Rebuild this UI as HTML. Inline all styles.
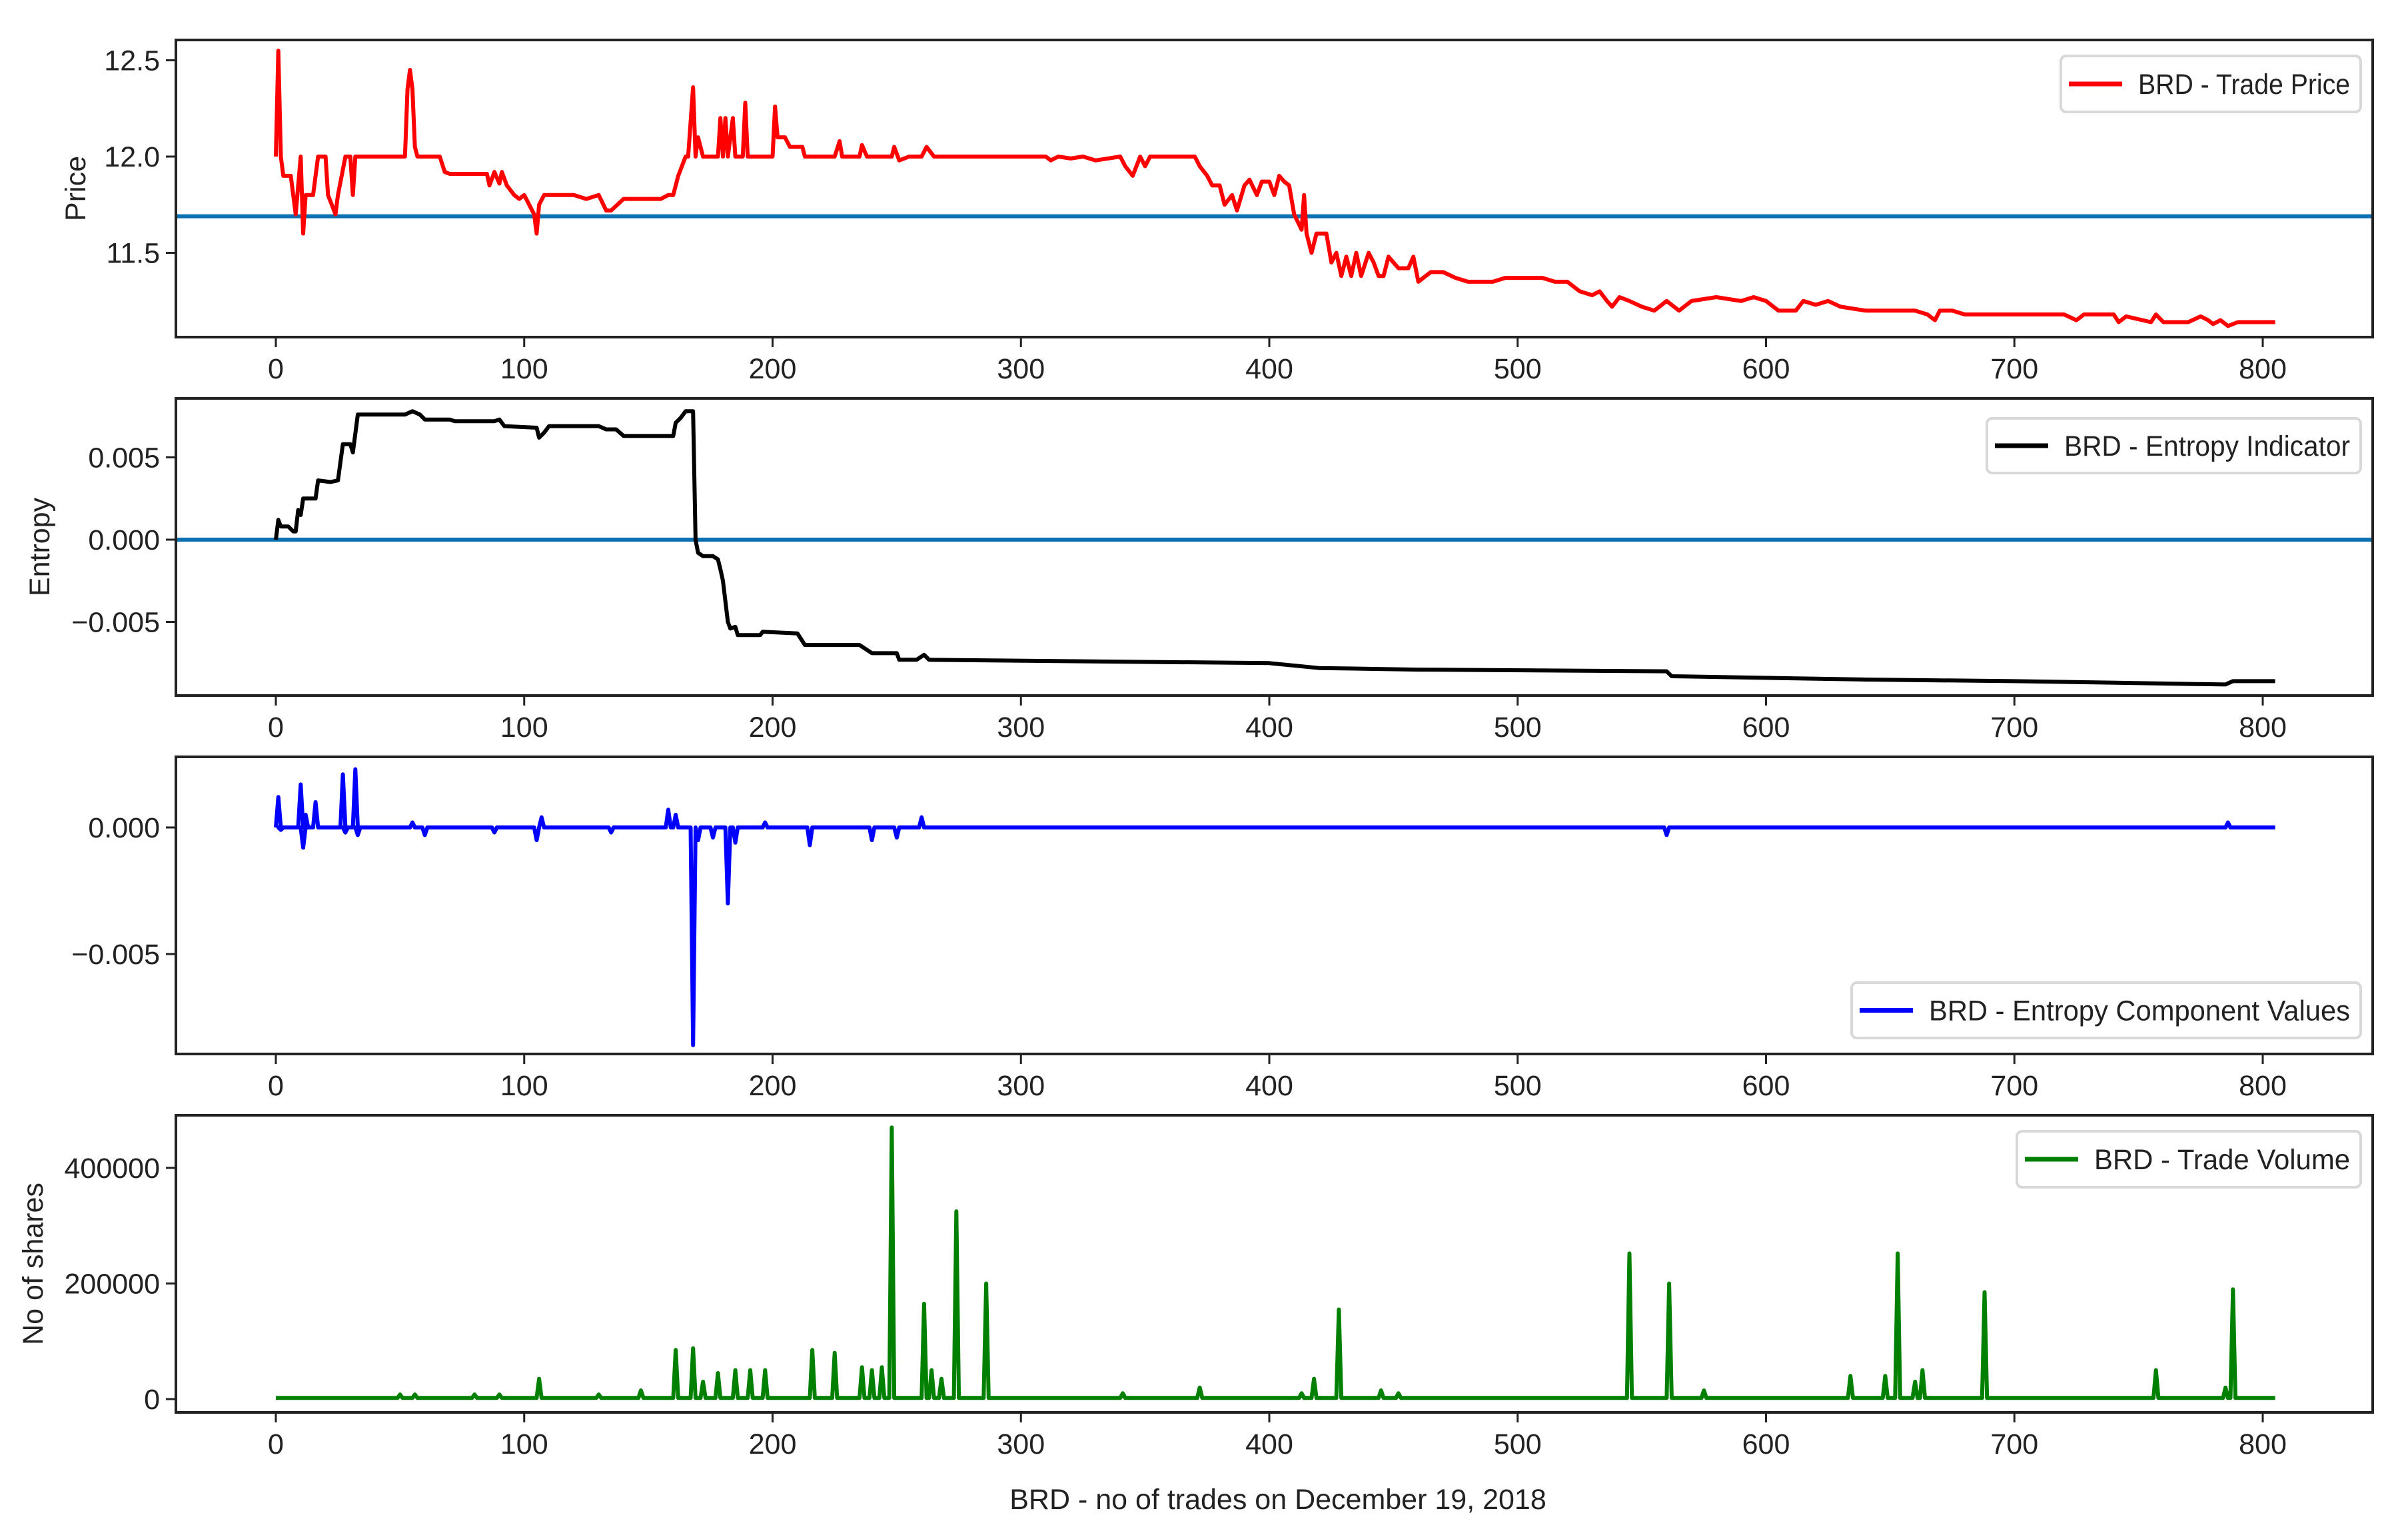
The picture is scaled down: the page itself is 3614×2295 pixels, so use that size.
<!DOCTYPE html>
<html><head><meta charset="utf-8"><style>
html,body{margin:0;padding:0;background:#fff;}
svg{display:block;}
text{font-family:"Liberation Sans","DejaVu Sans",sans-serif;fill:#222;}
</style></head>
<body>
<svg id="chart" xmlns="http://www.w3.org/2000/svg" width="3614" height="2295" viewBox="0 0 3614 2295">
<rect x="0" y="0" width="3614" height="2295" fill="#fff"/>
</svg>
<script>
// ---- data ----
const xTicks = [0,100,200,300,400,500,600,700,800];
const priceTicks = [11.5,12.0,12.5];
const priceTickLabels = ["11.5","12.0","12.5"];
const entropyTicks = [-0.005,0,0.005];
const entropyTickLabels = ["\u22120.005","0.000","0.005"];
const compTicks = [-0.005,0];
const compTickLabels = ["\u22120.005","0.000"];
const volTicks = [0,200000,400000];
const volTickLabels = ["0","200000","400000"];
const priceRef = 11.69;
const entropyRef = 0;

const priceX = [0,1,2,3,6,8,10,11,12,15,17,20,21,24,25,28,30,31,32,52,53,54,55,56,57,66,68,70,85,86,88,90,91,93,96,98,100,102,104,105,106,108,120,125,130,133,135,140,155,158,160,162,165,166,168,169,170,172,178,179,180,181,182,184,185,188,189,190,198,200,201,202,205,207,212,213,225,227,228,235,236,238,248,249,251,255,260,262,265,300,310,312,315,320,325,330,340,342,345,348,350,352,370,372,375,377,380,382,385,387,390,392,395,397,400,402,404,406,408,410,413,414,415,417,419,423,425,427,429,431,433,435,437,440,442,444,446,448,450,452,456,458,460,465,470,475,480,490,495,510,515,520,525,530,533,536,538,541,545,550,555,560,565,570,580,590,595,600,605,612,615,620,625,630,640,660,665,668,670,675,680,690,700,720,725,728,740,742,745,755,757,760,770,775,778,780,783,786,790,805];
const priceY = [12.0,12.55,12.0,11.9,11.9,11.7,12.0,11.6,11.8,11.8,12.0,12.0,11.8,11.7,11.8,12.0,12.0,11.8,12.0,12.0,12.35,12.45,12.35,12.05,12.0,12.0,11.92,11.91,11.91,11.85,11.92,11.86,11.92,11.85,11.8,11.78,11.8,11.75,11.7,11.6,11.75,11.8,11.8,11.78,11.8,11.72,11.72,11.78,11.78,11.8,11.8,11.9,12.0,12.0,12.36,12.0,12.1,12.0,12.0,12.2,12.0,12.2,12.0,12.2,12.0,12.0,12.28,12.0,12.0,12.0,12.26,12.1,12.1,12.05,12.05,12.0,12.0,12.08,12.0,12.0,12.06,12.0,12.0,12.05,11.98,12.0,12.0,12.05,12.0,12.0,12.0,11.98,12.0,11.99,12.0,11.98,12.0,11.95,11.9,12.0,11.95,12.0,12.0,11.95,11.9,11.85,11.85,11.75,11.8,11.72,11.85,11.88,11.8,11.87,11.87,11.8,11.9,11.87,11.85,11.7,11.62,11.8,11.6,11.5,11.6,11.6,11.45,11.5,11.38,11.48,11.38,11.5,11.38,11.5,11.45,11.38,11.38,11.48,11.45,11.42,11.42,11.48,11.35,11.4,11.4,11.37,11.35,11.35,11.37,11.37,11.35,11.35,11.3,11.28,11.3,11.25,11.22,11.27,11.25,11.22,11.2,11.25,11.2,11.25,11.27,11.25,11.27,11.25,11.2,11.2,11.25,11.23,11.25,11.22,11.2,11.2,11.18,11.15,11.2,11.2,11.18,11.18,11.18,11.18,11.15,11.18,11.18,11.14,11.17,11.14,11.18,11.14,11.14,11.17,11.15,11.13,11.15,11.12,11.14,11.14];

const entX = [0,1,2,5,7,8,9,10,11,16,17,22,25,27,30,31,33,52,55,58,60,70,72,88,90,92,105,106,108,110,130,133,137,140,160,161,163,165,168,169,170,172,176,178,179,180,182,183,185,186,195,196,210,213,235,240,250,251,258,261,263,400,420,460,560,562,640,700,785,788,805];
const entY = [0,0.0012,0.0008,0.0008,0.0005,0.0005,0.0018,0.0015,0.0025,0.0025,0.0036,0.0035,0.0036,0.0058,0.0058,0.0053,0.0076,0.0076,0.0078,0.0076,0.0073,0.0073,0.0072,0.0072,0.0073,0.0069,0.0068,0.0062,0.0065,0.0069,0.0069,0.0067,0.0067,0.0063,0.0063,0.0071,0.0074,0.0078,0.0078,0.0,-0.0008,-0.001,-0.001,-0.0012,-0.0018,-0.0025,-0.005,-0.0054,-0.0053,-0.0058,-0.0058,-0.0056,-0.0057,-0.0064,-0.0064,-0.0069,-0.0069,-0.0073,-0.0073,-0.0070,-0.0073,-0.0075,-0.0078,-0.0079,-0.0080,-0.0083,-0.0085,-0.0086,-0.0088,-0.0086,-0.0086];

const compLastX = 805;
const compSpikeX = [1,2,10,11,12,16,27,28,32,33,55,60,88,105,107,135,158,161,168,170,176,182,185,197,215,240,250,260,560,786];
const compSpikeY = [0.0012,-0.0001,0.0017,-0.0008,0.0005,0.001,0.0021,-0.0002,0.0023,-0.0003,0.0002,-0.0003,-0.0002,-0.0005,0.0004,-0.0002,0.0007,0.0005,-0.0086,-0.0005,-0.0004,-0.003,-0.0006,0.0002,-0.0007,-0.0005,-0.0004,0.0004,-0.0003,0.0002];

const volBase = 2000;
const volLastX = 805;
const volSpikeX = [50,56,80,90,106,130,147,161,168,172,178,185,191,197,216,225,236,240,244,248,261,264,268,274,286,341,372,413,418,428,445,452,545,561,575,634,648,653,660,663,688,757,785,788];
const volSpikeY = [8000,8000,8000,8000,35000,8000,15000,85000,88000,30000,45000,50000,50000,50000,85000,80000,55000,50000,55000,470000,165000,50000,35000,325000,200000,10000,20000,10000,35000,155000,15000,10000,252000,200000,15000,40000,40000,252000,30000,50000,185000,50000,20000,190000];

// ---- layout ----
const NS = "http://www.w3.org/2000/svg";
const svg = document.getElementById('chart');
const L = 264, R = 3561, H = 446;
const tops = [60, 598, 1136, 1674];
const x0px = 414, xPerUnit = 3.7275;
function xs(v){ return x0px + v * xPerUnit; }
function mkY(v0, px0, v1, px1){ return v => px0 + (v - v0) * (px1 - px0) / (v1 - v0); }
const yPrice = mkY(12.0, 235, 12.5, 90.5);
const yEnt = mkY(0, 810, 0.005, 686.5);
const yComp = mkY(0, 1242, -0.005, 1432);
const yVol = mkY(0, 2100, 200000, 1926.5);

function el(tag, attrs, parent){
  const e = document.createElementNS(NS, tag);
  for (const k in attrs) e.setAttribute(k, attrs[k]);
  (parent || svg).appendChild(e);
  return e;
}
function clip(id, top){
  const d = el('clipPath', {id: id});
  el('rect', {x: L, y: top, width: R - L, height: H}, d);
}

function panel(idx, name, yFn, ticks, labels, ylabel, ylabelX){
  const top = tops[idx], bot = top + H;
  const g = el('g', {});
  
  
  clip('clip' + idx, top);
  xTicks.forEach(t => {
    const tk = el('line', {x1: xs(t), x2: xs(t), y1: bot, y2: bot + 15, stroke: '#222', 'stroke-width': 3}, g);
    
    
    const tx = el('text', {x: xs(t), y: bot + 62, 'font-size': 43, 'text-anchor': 'middle'}, g);
    
    
    tx.textContent = String(t);
  });
  ticks.forEach((t, i) => {
    const y = yFn(t);
    const tk = el('line', {x1: L - 15, x2: L, y1: y, y2: y, stroke: '#222', 'stroke-width': 3}, g);
    
    
    const tx = el('text', {x: L - 24, y: y + 15, 'font-size': 43, 'text-anchor': 'end'}, g);
    
    
    tx.textContent = labels[i];
  });
  if (ylabel){
    const cy = top + H / 2;
    const t = el('text', {x: ylabelX, y: cy, 'font-size': 43, 'text-anchor': 'middle', transform: 'rotate(-90 ' + ylabelX + ' ' + cy + ')'}, g);
    
    
    t.textContent = ylabel;
  }
  return g;
}
function line(g, X, Y, yFn, color, w, name, idx){
  let pts = X.map((x, i) => xs(x).toFixed(1) + ',' + yFn(Y[i]).toFixed(1)).join(' ');
  const p = el('polyline', {points: pts, fill: 'none', stroke: color, 'stroke-width': w, 'stroke-linejoin': 'round', 'clip-path': 'url(#clip' + idx + ')'}, g);
  
  
}
function spikes(SX, SY, base, last){
  const X = [0], Y = [base];
  SX.forEach((x, i) => { X.push(x - 1, x, x + 1); Y.push(base, SY[i], base); });
  X.push(last); Y.push(base);
  return [X, Y];
}
function hline(g, v, yFn, name){
  const y = yFn(v);
  const l = el('line', {x1: L, x2: R, y1: y, y2: y, stroke: '#0a70b2', 'stroke-width': 6}, g);
  
  
}
function frame(g, idx){
  const r = el('rect', {x: L, y: tops[idx], width: R - L, height: H, fill: 'none', stroke: '#222', 'stroke-width': 4}, g);
  
  
}
function legend(g, x1, y1, x2, y2, color, label){
  const lg = el('g', {}, g);
  
  
  el('rect', {x: x1, y: y1, width: x2 - x1, height: y2 - y1, rx: 8, fill: '#fff', stroke: '#d8d8d8', 'stroke-width': 4}, lg);
  const cy = (y1 + y2) / 2;
  const s = el('line', {x1: x1 + 12, x2: x1 + 92, y1: cy, y2: cy, stroke: color, 'stroke-width': 7}, lg);
  
  
  const t = el('text', {x: x2 - 16, y: cy + 15, 'font-size': 43, 'text-anchor': 'end', textLength: (x2 - 16) - (x1 + 116), lengthAdjust: 'spacingAndGlyphs'}, lg);
  
  
  t.textContent = label;
}

const g1 = panel(0, 'price', yPrice, priceTicks, priceTickLabels, 'Price', 128);
hline(g1, priceRef, yPrice, 'price-reference-line');
line(g1, priceX, priceY, yPrice, '#ff0000', 6, 'price-line', 0);
frame(g1, 0);
legend(g1, 3093, 84, 3543, 168, '#ff0000', 'BRD - Trade Price');

const g2 = panel(1, 'entropy', yEnt, entropyTicks, entropyTickLabels, 'Entropy', 74);
hline(g2, entropyRef, yEnt, 'entropy-zero-line');
line(g2, entX, entY, yEnt, '#000000', 6, 'entropy-line', 1);
frame(g2, 1);
legend(g2, 2982, 628, 3543, 710, '#000000', 'BRD - Entropy Indicator');

const g3 = panel(2, 'entropy-components', yComp, compTicks, compTickLabels, null, 0);
const cs = spikes(compSpikeX, compSpikeY, 0, compLastX);
line(g3, cs[0], cs[1], yComp, '#0000ff', 6, 'entropy-component-line', 2);
frame(g3, 2);
legend(g3, 2779, 1475, 3543, 1558, '#0000ff', 'BRD - Entropy Component Values');

const g4 = panel(3, 'volume', yVol, volTicks, volTickLabels, 'No of shares', 64);
const vs = spikes(volSpikeX, volSpikeY, volBase, volLastX);
line(g4, vs[0], vs[1], yVol, '#008000', 6, 'volume-line', 3);
frame(g4, 3);
legend(g4, 3027, 1698, 3543, 1782, '#008000', 'BRD - Trade Volume');

const xl = el('text', {x: 1918, y: 2265, 'font-size': 43, 'text-anchor': 'middle'});


xl.textContent = 'BRD - no of trades on December 19, 2018';
</script>
</body></html>
